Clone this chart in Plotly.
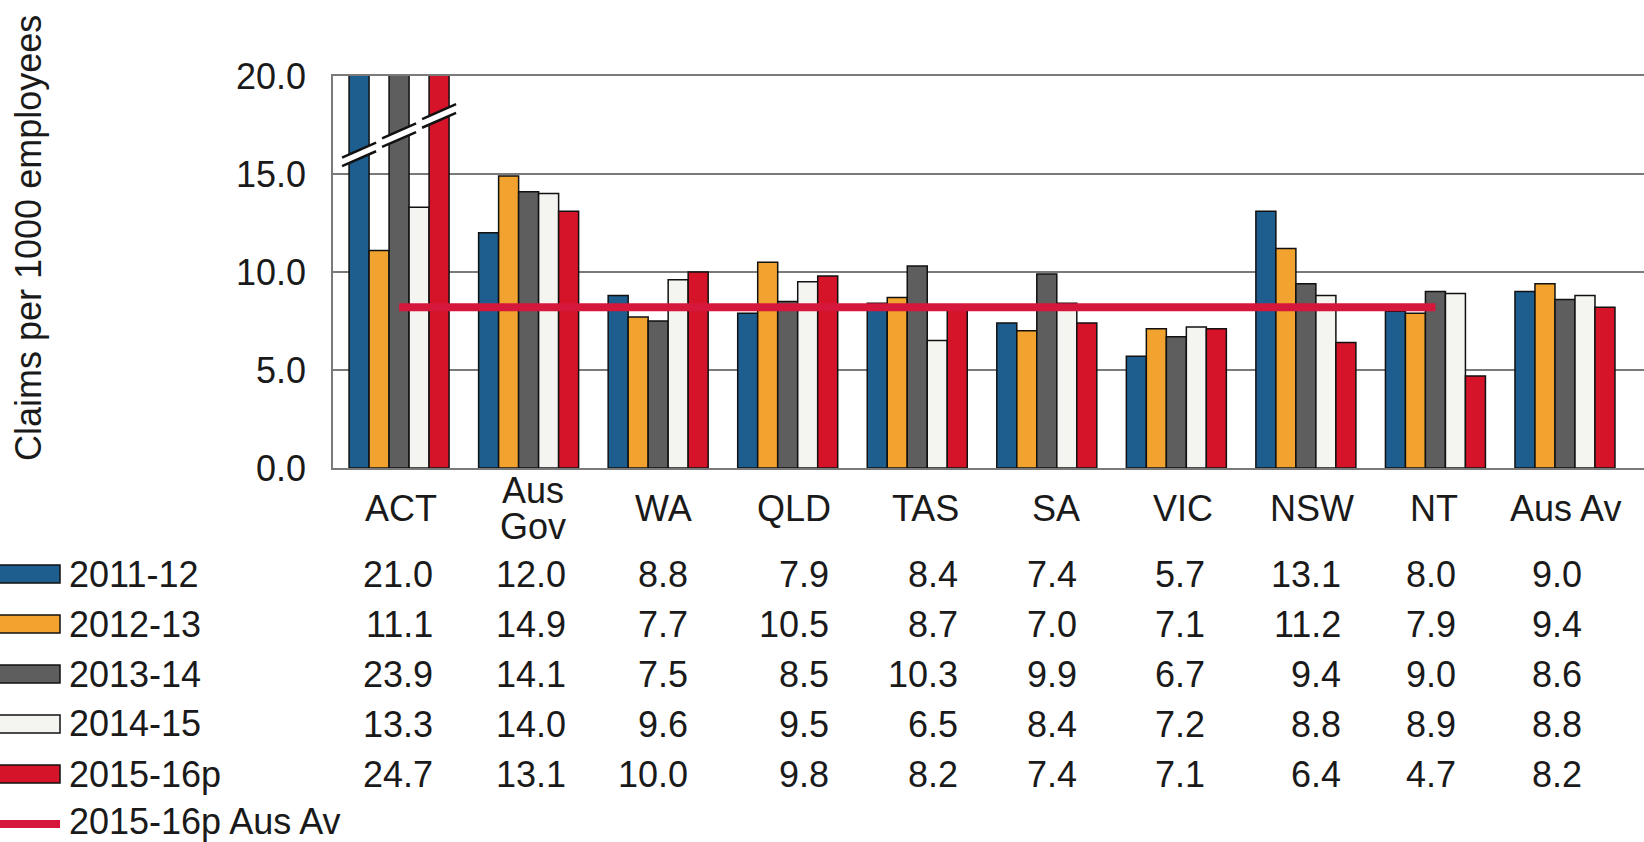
import plotly.graph_objects as go

# ---------------- data ----------------
categories = ["ACT", "Aus\nGov", "WA", "QLD", "TAS", "SA", "VIC", "NSW", "NT", "Aus Av"]
series_names = ["2011-12", "2012-13", "2013-14", "2014-15", "2015-16p"]
v_2011_12 = [21.0, 12.0, 8.8, 7.9, 8.4, 7.4, 5.7, 13.1, 8.0, 9.0]
v_2012_13 = [11.1, 14.9, 7.7, 10.5, 8.7, 7.0, 7.1, 11.2, 7.9, 9.4]
v_2013_14 = [23.9, 14.1, 7.5, 8.5, 10.3, 9.9, 6.7, 9.4, 9.0, 8.6]
v_2014_15 = [13.3, 14.0, 9.6, 9.5, 6.5, 8.4, 7.2, 8.8, 8.9, 8.8]
v_2015_16p = [24.7, 13.1, 10.0, 9.8, 8.2, 7.4, 7.1, 6.4, 4.7, 8.2]
avg_line_name = "2015-16p Aus Av"
y_ticks = [0, 5, 10, 15, 20]
y_title = "Claims per 1000 employees"

series_values = [v_2011_12, v_2012_13, v_2013_14, v_2014_15, v_2015_16p]

# ---------------- style / layout ----------------
colors = ["#1d5e8e", "#f2a22e", "#5e5e5e", "#f4f4f0", "#d5142a"]
line_color = "#d6173c"
text_color = "#1a1a1a"
FONT = "Liberation Sans, Arial, sans-serif"
FS = 36

FIG_W, FIG_H = 1644, 842
L, T = 333, 76
PLOT_BOTTOM = 468
W = FIG_W - L
H = PLOT_BOTTOM - T
Y_MAX = 20
X_RANGE = [-0.51, 9.61]
BARGAP = 0.228
BAR_W = (1 - BARGAP) / len(series_names)

label_shift = [2, 4, 5, 6, 8, 9, 7, 6, -1, 1]        # px, table column layout
value_right_shift = [36, 39, 32, 43, 43, 32, 31, 37, 23, 19]
LABEL_Y = 508
ROW_Y0, ROW_DY = 574, 50


def px_x(px):
    return (px - L) / W


def px_y(py):
    return (PLOT_BOTTOM - py) / H


keys = [c.replace("\n", " ") for c in categories]

fig = go.Figure()
for name, vals, col in zip(series_names, series_values, colors):
    fig.add_trace(go.Bar(
        x=keys, y=vals, name=name,
        marker=dict(color=col, line=dict(color="#111111", width=1.5)),
    ))

avg_value = v_2015_16p[-1]
fig.add_trace(go.Scatter(
    x=keys[:-1], y=[avg_value] * (len(keys) - 1), mode="lines",
    name=avg_line_name, line=dict(color=line_color, width=8),
))

annotations = []
shapes = []

# category labels (table header)
for i, (k, c) in enumerate(zip(keys, categories)):
    lines = c.split("\n")
    n = len(lines)
    for j, ln in enumerate(lines):
        cy = LABEL_Y + (j - (n - 1) / 2) * 36
        annotations.append(dict(
            x=k, xref="x", y=0, yref="paper", yshift=-(cy - PLOT_BOTTOM),
            text=ln, showarrow=False, xanchor="center", yanchor="middle",
            xshift=label_shift[i], font=dict(size=FS, color=text_color, family=FONT),
        ))

# table values
for r, vals in enumerate(series_values):
    cy = ROW_Y0 + r * ROW_DY
    for i, (k, v) in enumerate(zip(keys, vals)):
        annotations.append(dict(
            x=k, xref="x", y=0, yref="paper", yshift=-(cy - PLOT_BOTTOM),
            text=f"{v:.1f}", showarrow=False, xanchor="right", yanchor="middle",
            xshift=value_right_shift[i], font=dict(size=FS, color=text_color, family=FONT),
        ))

# custom legend
for r, (name, col) in enumerate(zip(series_names, colors)):
    cy = ROW_Y0 + r * ROW_DY
    shapes.append(dict(
        type="rect", xref="paper", yref="paper",
        x0=px_x(-6), x1=px_x(60), y0=px_y(cy - 9), y1=px_y(cy + 9),
        fillcolor=col, line=dict(color="#111111", width=1.5),
    ))
    annotations.append(dict(
        x=px_x(67), xref="paper", y=px_y(cy), yref="paper", text=name,
        showarrow=False, xanchor="left", yanchor="middle",
        font=dict(size=FS, color=text_color, family=FONT),
    ))
cy = ROW_Y0 + 5 * ROW_DY
shapes.append(dict(
    type="line", xref="paper", yref="paper",
    x0=px_x(-6), x1=px_x(60), y0=px_y(cy), y1=px_y(cy),
    line=dict(color=line_color, width=8),
))
annotations.append(dict(
    x=px_x(67), xref="paper", y=px_y(cy - 2), yref="paper", text=avg_line_name,
    showarrow=False, xanchor="left", yanchor="middle",
    font=dict(size=FS, color=text_color, family=FONT),
))

# y-axis title
annotations.append(dict(
    x=px_x(29), xref="paper", y=px_y(238), yref="paper", text=y_title,
    textangle=-90, showarrow=False, xanchor="center", yanchor="middle",
    font=dict(size=FS, color=text_color, family=FONT),
))

# axis-break marks on bars exceeding the axis maximum
BREAK_Y0, BREAK_DY = 16.0, 0.49
HALF_X, HALF_Y, EDGE = 0.85 * BAR_W, 0.38, 0.22
for s, vals in enumerate(series_values):
    off = (s - (len(series_values) - 1) / 2) * BAR_W
    yb = BREAK_Y0 + BREAK_DY * s
    for i, v in enumerate(vals):
        if v > Y_MAX:
            c = i + off
            shapes.append(dict(type="line", xref="x", yref="y",
                               x0=c - HALF_X, x1=c + HALF_X, y0=yb - HALF_Y, y1=yb + HALF_Y,
                               line=dict(color="white", width=8)))
            for d in (-EDGE, EDGE):
                shapes.append(dict(type="line", xref="x", yref="y",
                                   x0=c - HALF_X, x1=c + HALF_X,
                                   y0=yb - HALF_Y + d, y1=yb + HALF_Y + d,
                                   line=dict(color="#111111", width=2.5)))

fig.update_layout(
    width=FIG_W, height=FIG_H,
    margin=dict(l=L, r=0, t=T, b=FIG_H - PLOT_BOTTOM, pad=0),
    paper_bgcolor="white", plot_bgcolor="white",
    barmode="group", bargap=BARGAP, bargroupgap=0,
    showlegend=False,
    font=dict(family=FONT, size=FS, color=text_color),
    xaxis=dict(range=X_RANGE, showticklabels=False, showgrid=False, zeroline=False,
               showline=True, linecolor="#7a7a7a", linewidth=1.5, mirror=True, ticks=""),
    yaxis=dict(range=[0, Y_MAX], tickvals=y_ticks, ticktext=[f"{t:.1f}" for t in y_ticks],
               showgrid=True, gridcolor="#7a7a7a", gridwidth=1.5, zeroline=False,
               showline=True, linecolor="#7a7a7a", linewidth=1.5,
               ticks="outside", ticklen=0, ticklabelstandoff=18,
               tickfont=dict(size=FS, color=text_color, family=FONT)),
    annotations=annotations,
    shapes=shapes,
)

fig.write_html(
    "out.html",
    config={"displayModeBar": False},
    post_script="document.body.style.margin='0';document.body.style.overflow='hidden';",
)
